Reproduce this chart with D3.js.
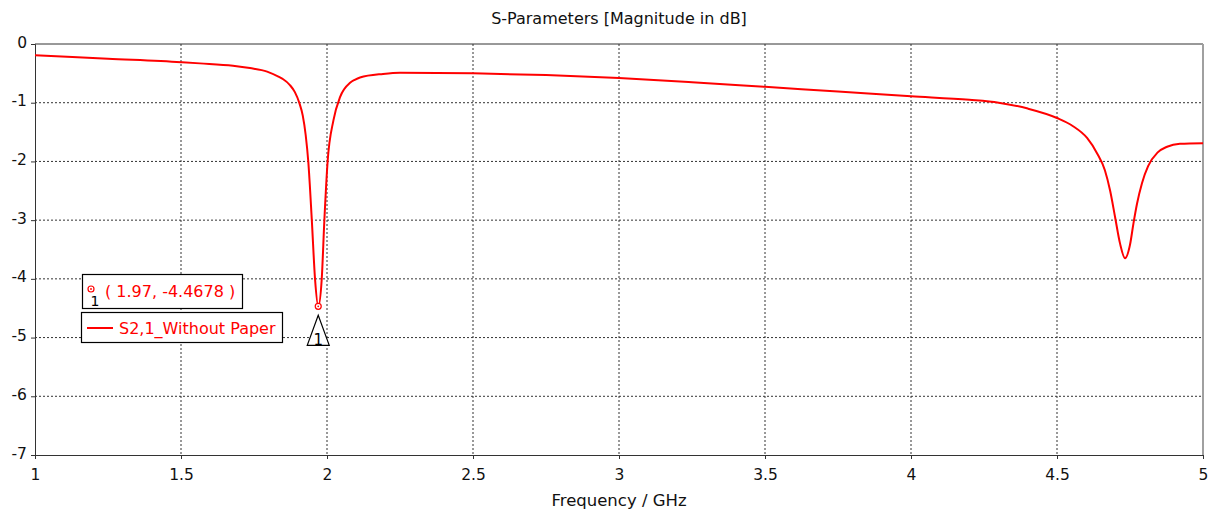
<!DOCTYPE html>
<html>
<head>
    <meta charset="utf-8">
    <script src="https://d3js.org/d3.v7.min.js"></script>
    <style>
        body { margin: 0; background: #fff; }
        text { font-family: "DejaVu Sans", sans-serif; }
    </style>
</head>
<body>
<script>
    // S2,1 magnitude (dB)
    var freq = [1.0, 1.25, 1.5, 1.565, 1.678, 1.736, 1.795, 1.839, 1.85, 1.873, 1.89, 1.905, 1.917, 1.927,
                1.936, 1.948, 1.959, 1.970, 1.982, 1.991, 2.002, 2.022, 2.045, 2.079, 2.095, 2.113, 2.192,
                2.25, 2.5, 2.75, 3.0, 3.25, 3.5, 3.75, 4.0, 4.2, 4.3, 4.4, 4.5, 4.555, 4.603, 4.637, 4.664,
                4.682, 4.699, 4.716, 4.733, 4.75, 4.762, 4.774, 4.791, 4.812, 4.844, 4.877, 4.921, 5.0];
    var s21 = [-0.19, -0.25, -0.31, -0.33, -0.37, -0.41, -0.47, -0.57, -0.60, -0.70, -0.82, -1.0, -1.22, -1.55,
               -2.01, -3.0, -4.0, -4.4678, -4.0, -3.0, -2.01, -1.30, -0.90, -0.66, -0.61, -0.57, -0.51,
               -0.49, -0.50, -0.53, -0.58, -0.65, -0.73, -0.81, -0.89, -0.95, -1.0, -1.1, -1.26, -1.40, -1.60, -1.86, -2.15,
               -2.5, -2.95, -3.4, -3.65, -3.42, -3.05, -2.72, -2.37, -2.08, -1.85, -1.75, -1.70, -1.69];
    var xTicks = [1, 1.5, 2, 2.5, 3, 3.5, 4, 4.5, 5];
    var yTicks = [0, -1, -2, -3, -4, -5, -6, -7];
    var markerPt = [1.97, -4.4678];

    var width = 1219, height = 515,
        margin = {top: 44, right: 16, bottom: 60, left: 35},
        w = width - margin.left - margin.right,
        h = height - margin.top - margin.bottom;

    var x = d3.scaleLinear().domain([1, 5]).range([0, w]);
    var y = d3.scaleLinear().domain([-7, 0]).range([h, 0]);

    var svg = d3.select("body").append("svg")
        .attr("width", width)
        .attr("height", height);

    svg.append("text")
        .attr("x", margin.left + w / 2)
        .attr("y", 24)
        .attr("text-anchor", "middle")
        .style("font-size", "16px")
        .style("fill", "#111")
        .text("S-Parameters [Magnitude in dB]");

    var g = svg.append("g")
        .attr("transform", "translate(" + margin.left + "," + margin.top + ")");

    // grid
    g.append("g").selectAll("line")
        .data(xTicks.slice(1, -1))
        .enter().append("line")
        .attr("x1", d => x(d)).attr("x2", d => x(d))
        .attr("y1", 0).attr("y2", h)
        .style("stroke", "#333").style("stroke-dasharray", "2,2");

    g.append("g").selectAll("line")
        .data(yTicks.slice(1, -1))
        .enter().append("line")
        .attr("x1", 0).attr("x2", w)
        .attr("y1", d => y(d)).attr("y2", d => y(d))
        .style("stroke", "#333").style("stroke-dasharray", "2,2");

    // frame
    g.append("line").attr("x1", 0).attr("x2", w).attr("y1", 0).attr("y2", 0).style("stroke", "#333");
    g.append("line").attr("x1", w).attr("x2", w).attr("y1", 0).attr("y2", h)
        .style("stroke", "#a0a0a0").style("stroke-width", 2);

    var xAxis = g.append("g")
        .attr("transform", "translate(0," + h + ")")
        .call(d3.axisBottom(x).tickValues(xTicks).tickSize(4).tickPadding(5).tickFormat(d3.format("")));
    var yAxis = g.append("g")
        .call(d3.axisLeft(y).tickValues(yTicks).tickSize(4).tickPadding(4).tickFormat(d => d === 0 ? "0" : "-" + Math.abs(d)));

    [xAxis, yAxis].forEach(function(a) {
        a.select(".domain").style("stroke", "#333");
        a.selectAll(".tick line").style("stroke", "#333");
        a.selectAll("text").style("font-size", "15.5px").style("fill", "#111")
            .style("font-family", "DejaVu Sans, sans-serif");
    });
    xAxis.selectAll("text").attr("dy", "1em");
    yAxis.selectAll("text").attr("dy", "0.2em");

    svg.append("text")
        .attr("x", margin.left + w / 2)
        .attr("y", 506)
        .attr("text-anchor", "middle")
        .style("font-size", "16.5px")
        .style("fill", "#111")
        .text("Frequency / GHz");

    // curve
    var data = freq.map((f, i) => [f, s21[i]]);
    var line = d3.line()
        .x(d => x(d[0]))
        .y(d => y(d[1]))
        .curve(d3.curveMonotoneX);

    g.append("path")
        .datum(data)
        .attr("d", line)
        .style("fill", "none")
        .style("stroke", "#ff0000")
        .style("stroke-width", 2);

    // marker
    var mx = x(markerPt[0]), my = y(markerPt[1]);
    g.append("circle").attr("cx", mx).attr("cy", my).attr("r", 3)
        .style("fill", "#fff").style("stroke", "#ff0000").style("stroke-width", 1.2);
    g.append("circle").attr("cx", mx).attr("cy", my).attr("r", 0.9).style("fill", "#ff0000");

    g.append("path")
        .attr("d", "M" + mx + "," + (my + 9) + "L" + (mx - 11) + "," + (my + 39) + "L" + (mx + 11) + "," + (my + 39) + "Z")
        .style("fill", "#fff").style("stroke", "#000").style("stroke-width", 1.2);
    g.append("text").attr("x", mx).attr("y", my + 39)
        .attr("text-anchor", "middle")
        .style("font-size", "15px").style("fill", "#000").text("1");

    // marker label box
    svg.append("rect").attr("x", 82.5).attr("y", 274.5).attr("width", 160).attr("height", 34)
        .style("fill", "#fff").style("stroke", "#000").style("stroke-width", 1.2);
    svg.append("circle").attr("cx", 91).attr("cy", 289).attr("r", 3)
        .style("fill", "#fff").style("stroke", "#ff0000").style("stroke-width", 1.2);
    svg.append("circle").attr("cx", 91).attr("cy", 289).attr("r", 0.9).style("fill", "#ff0000");
    svg.append("text").attr("x", 95).attr("y", 306).attr("text-anchor", "middle")
        .style("font-size", "14px").style("fill", "#000").text("1");
    svg.append("text").attr("x", 105).attr("y", 297)
        .style("font-size", "16px").style("fill", "#ff0000").text("( 1.97, -4.4678 )");

    // legend
    svg.append("rect").attr("x", 81.5).attr("y", 312.5).attr("width", 201).attr("height", 30)
        .style("fill", "#fff").style("stroke", "#000").style("stroke-width", 1.2);
    svg.append("line").attr("x1", 87).attr("x2", 113).attr("y1", 328).attr("y2", 328)
        .style("stroke", "#ff0000").style("stroke-width", 2);
    svg.append("text").attr("x", 119).attr("y", 334)
        .style("font-size", "16px").style("fill", "#ff0000").text("S2,1_Without Paper");
</script>
</body>
</html>
